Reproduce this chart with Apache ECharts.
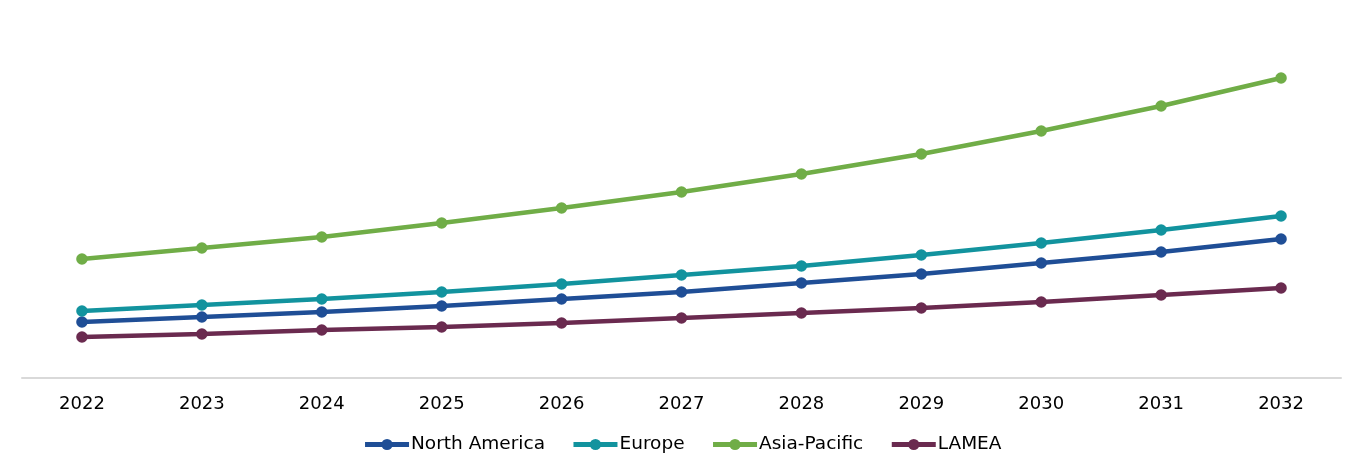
<!DOCTYPE html>
<html><head><meta charset="utf-8">
<script src="https://cdn.jsdelivr.net/npm/echarts@6/dist/echarts.min.js"></script>
<style>html,body{margin:0;padding:0;background:#fff}#c{width:1364px;height:474px}</style>
</head><body><div id="c"></div>
<script>
const years = ['2022','2023','2024','2025','2026','2027','2028','2029','2030','2031','2032'];
const northAmerica = [56, 61, 66, 72, 79, 86, 95, 104, 115, 126, 139];
const europe = [67, 73, 79, 86, 94, 103, 112, 123, 135, 148, 162];
const asiaPacific = [119, 130, 141, 155, 170, 186, 204, 224, 247, 272, 300];
const lamea = [41, 44, 48, 51, 55, 60, 65, 70, 76, 83, 90];

const font = 'Verdana, "DejaVu Sans", sans-serif';
function s(name, data, color) {
  return { name, type: 'line', data, symbol: 'circle', symbolSize: 11.5,
    lineStyle: { width: 4.5, color }, itemStyle: { color } };
}
const chart = echarts.init(document.getElementById('c'));
chart.setOption({
  animation: false,
  legend: { bottom: 15, left: 'center', itemWidth: 44, itemHeight: 14, itemGap: 26,
    lineStyle: { width: 5 },
    textStyle: { fontFamily: font, fontSize: 18.5, color: '#000', padding: [0, 0, 0, -3] } },
  grid: { left: 22, right: 23, top: 0, bottom: 96 },
  xAxis: { type: 'category', data: years, boundaryGap: true,
    axisLine: { lineStyle: { color: '#d9d9d9', width: 2 } }, axisTick: { show: false },
    axisLabel: { fontFamily: font, fontSize: 18, color: '#000', margin: 17 } },
  yAxis: { type: 'value', min: 0, max: 378, show: false, splitLine: { show: false } },
  series: [
    s('North America', northAmerica, '#1f4e96'),
    s('Europe', europe, '#12939e'),
    s('Asia-Pacific', asiaPacific, '#70ad47'),
    s('LAMEA', lamea, '#6a2a4f')
  ]
});
</script></body></html>
